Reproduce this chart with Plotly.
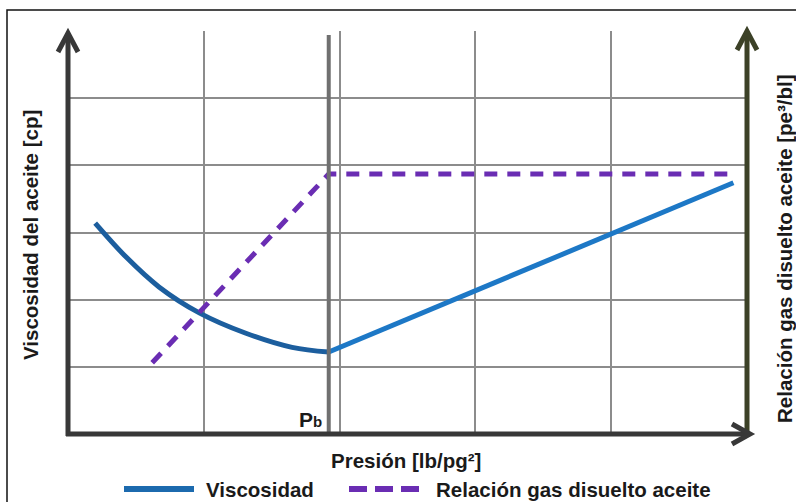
import plotly.graph_objects as go

# ---- data (grid units: x 0..5, y 0..6) ----
visc_curve_x = [0.20, 0.43, 0.67, 0.97, 1.31, 1.65, 1.92]
visc_curve_y = [3.14, 2.63, 2.19, 1.80, 1.50, 1.29, 1.22]
visc_rise_x = [1.92, 4.90]
visc_rise_y = [1.22, 3.74]
rs_x = [0.62, 1.92, 4.89]
rs_y = [1.06, 3.87, 3.87]
pb_x = 1.92

W, H = 796, 502
L, R, T, B = 68, 747, 31, 434


def px(x):
    return (x - L) / (R - L)


def py(y):
    return (B - y) / (B - T)


fig = go.Figure()
fig.add_trace(go.Scatter(x=visc_curve_x, y=visc_curve_y, mode="lines",
                         line=dict(color="#1c5e9e", width=5, shape="spline"),
                         name="Viscosidad", showlegend=False, hoverinfo="skip"))
fig.add_trace(go.Scatter(x=visc_rise_x, y=visc_rise_y, mode="lines",
                         line=dict(color="#1d78c6", width=5),
                         name="Viscosidad", showlegend=False, hoverinfo="skip"))
fig.add_trace(go.Scatter(x=rs_x, y=rs_y, mode="lines",
                         line=dict(color="#6a2db3", width=5, dash="13px,10px"),
                         name="Relación gas disuelto aceite", showlegend=False,
                         hoverinfo="skip"))

shapes = []
# outer frame
shapes.append(dict(type="rect", xref="paper", yref="paper",
                   x0=px(7), x1=px(800), y0=py(520), y1=py(10),
                   line=dict(color="#111", width=1.5), layer="below"))
# Pb vertical line
shapes.append(dict(type="line", xref="x", yref="paper", x0=pb_x, x1=pb_x,
                   y0=py(434), y1=py(35), line=dict(color="#707070", width=4)))
# left axis
ax_c = "#383838"
shapes.append(dict(type="line", xref="paper", yref="paper", x0=px(68), x1=px(68),
                   y0=py(436), y1=py(34), line=dict(color=ax_c, width=5)))
shapes.append(dict(type="path", xref="paper", yref="paper",
                   path=f"M {px(58)},{py(52)} L {px(68)},{py(33)} L {px(78)},{py(52)}",
                   line=dict(color=ax_c, width=5)))
# right axis
ol_c = "#3c4127"
shapes.append(dict(type="line", xref="paper", yref="paper", x0=px(747), x1=px(747),
                   y0=py(436), y1=py(32), line=dict(color=ol_c, width=5)))
shapes.append(dict(type="path", xref="paper", yref="paper",
                   path=f"M {px(737)},{py(50)} L {px(747)},{py(31)} L {px(757)},{py(50)}",
                   line=dict(color=ol_c, width=5)))
# bottom axis
shapes.append(dict(type="line", xref="paper", yref="paper", x0=px(66), x1=px(749),
                   y0=py(434), y1=py(434), line=dict(color=ax_c, width=5)))
shapes.append(dict(type="path", xref="paper", yref="paper",
                   path=f"M {px(732)},{py(424)} L {px(750)},{py(434)} L {px(732)},{py(444)}",
                   line=dict(color=ax_c, width=5)))
# legend symbols
shapes.append(dict(type="line", xref="paper", yref="paper", x0=px(124), x1=px(194),
                   y0=py(489), y1=py(489), line=dict(color="#1c6aae", width=6)))
shapes.append(dict(type="line", xref="paper", yref="paper", x0=px(349), x1=px(422),
                   y0=py(489), y1=py(489), line=dict(color="#6a2db3", width=6, dash="18px,8px")))

font = dict(family="Liberation Sans, Arial, sans-serif", size=20.5, color="#1a1a1a")
ann = [
    dict(text="<b>Presión [lb/pg²]</b>", x=px(406), y=py(460), xref="paper", yref="paper",
         showarrow=False, font=font, xanchor="center", yanchor="middle"),
    dict(text="<b>Viscosidad del aceite [cp]</b>", x=px(30), y=py(235), xref="paper",
         yref="paper", showarrow=False, font=font, textangle=-90,
         xanchor="center", yanchor="middle"),
    dict(text="<b>Relación gas disuelto aceite [pe³/bl]</b>", x=px(784), y=py(249),
         xref="paper", yref="paper", showarrow=False, font=font, textangle=-90,
         xanchor="center", yanchor="middle"),
    dict(text="<b>P<span style='font-size:15px'>b</span></b>", x=px(324), y=py(419),
         xref="paper", yref="paper", showarrow=False, font=dict(font, size=21),
         xanchor="right", yanchor="middle"),
    dict(text="<b>Viscosidad</b>", x=px(204), y=py(489), xref="paper", yref="paper",
         showarrow=False, font=font, xanchor="left", yanchor="middle"),
    dict(text="<b>Relación gas disuelto aceite</b>", x=px(434), y=py(489), xref="paper",
         yref="paper", showarrow=False, font=font, xanchor="left", yanchor="middle"),
]

fig.update_layout(
    width=W, height=H,
    margin=dict(l=L, r=W - R, t=T, b=H - B),
    paper_bgcolor="white", plot_bgcolor="white",
    shapes=shapes, annotations=ann, showlegend=False,
    xaxis=dict(range=[0, 5], dtick=1, tick0=0, showgrid=True, gridcolor="#8c8c8c",
               gridwidth=1.5, showticklabels=False, zeroline=False, showline=False,
               ticks=""),
    yaxis=dict(range=[0, 6], dtick=1, tick0=0, showgrid=True, gridcolor="#8c8c8c",
               gridwidth=1.5, showticklabels=False, zeroline=False, showline=False,
               ticks=""),
)
fig.write_html("out.html", config={"displayModeBar": False},
               post_script="document.body.style.margin='0px';")
